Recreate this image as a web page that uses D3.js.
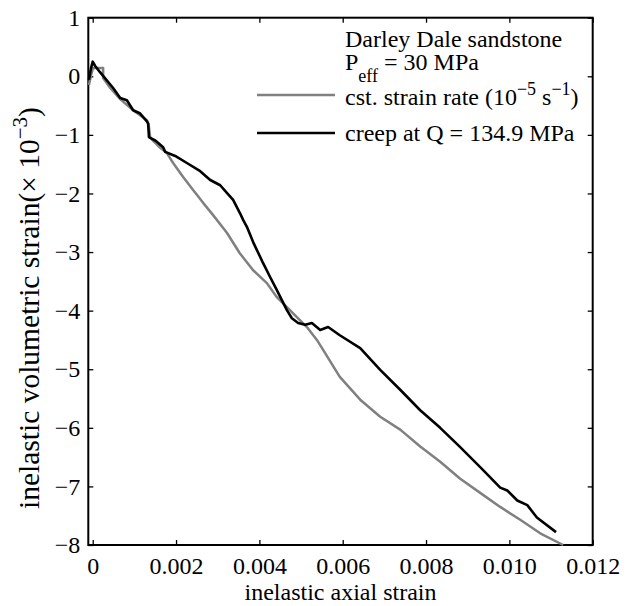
<!DOCTYPE html>
<html>
<head>
<meta charset="utf-8">
<script src="https://cdn.jsdelivr.net/npm/d3@7"></script>
<style>
  body { margin: 0; background: #fff; }
  svg { display: block; }
  text { font-family: "Liberation Serif", "Times New Roman", serif; fill: #000; }
</style>
</head>
<body>
<svg id="chart" width="635" height="606"></svg>
<script>
// ---- data ----
const xTicks = [0, 0.002, 0.004, 0.006, 0.008, 0.010, 0.012];
const xTickLabels = ["0", "0.002", "0.004", "0.006", "0.008", "0.010", "0.012"];
const yTicks = [1, 0, -1, -2, -3, -4, -5, -6, -7, -8];
const yTickLabels = ["1", "0", "\u22121", "\u22122", "\u22123", "\u22124", "\u22125", "\u22126", "\u22127", "\u22128"];

// constant strain rate (grey)
const cstX = [-0.00009, -0.00004, 0.000007, 0.00013, 0.00025, 0.00025, 0.00042, 0.00066, 0.00097, 0.00130, 0.00134, 0.00138, 0.00162, 0.00178, 0.00193, 0.00217, 0.00241, 0.00265, 0.00289, 0.00322, 0.00353, 0.00385, 0.00418, 0.00442, 0.00466, 0.00490, 0.00514, 0.00538, 0.00553, 0.00593, 0.00642, 0.00690, 0.00738, 0.00786, 0.00834, 0.00882, 0.00930, 0.00978, 0.01026, 0.01074, 0.01129];
const cstY = [-0.15, 0.02, 0.14, 0.14, 0.14, -0.03, -0.20, -0.39, -0.58, -0.75, -0.81, -1.05, -1.22, -1.31, -1.48, -1.72, -1.94, -2.16, -2.37, -2.67, -3.02, -3.31, -3.53, -3.77, -3.94, -4.11, -4.28, -4.50, -4.67, -5.13, -5.52, -5.81, -6.03, -6.32, -6.58, -6.87, -7.11, -7.35, -7.57, -7.80, -8.00];

// creep at Q = 134.9 MPa (black)
const creepX = [-0.00009, -0.00004, 0.0, 0.000055, 0.000175, 0.00049, 0.00066, 0.00082, 0.00097, 0.00113, 0.00130, 0.00133, 0.00135, 0.00151, 0.00169, 0.00174, 0.00198, 0.00226, 0.00258, 0.00282, 0.00306, 0.00322, 0.00337, 0.00353, 0.00361, 0.00370, 0.00385, 0.00409, 0.00426, 0.00442, 0.00466, 0.00478, 0.00493, 0.00510, 0.00526, 0.00546, 0.00565, 0.00593, 0.00642, 0.00690, 0.00738, 0.00786, 0.00834, 0.00882, 0.00930, 0.00978, 0.00995, 0.01019, 0.01043, 0.01066, 0.01112];
const creepY = [-0.06, 0.14, 0.25, 0.18, 0.07, -0.20, -0.37, -0.41, -0.58, -0.63, -0.77, -0.81, -1.04, -1.10, -1.21, -1.29, -1.36, -1.48, -1.62, -1.77, -1.86, -1.99, -2.11, -2.33, -2.45, -2.57, -2.83, -3.19, -3.43, -3.65, -3.99, -4.13, -4.21, -4.24, -4.21, -4.33, -4.28, -4.42, -4.64, -5.01, -5.35, -5.70, -6.00, -6.33, -6.67, -7.02, -7.07, -7.24, -7.32, -7.53, -7.78];

const seriesNames = ["cst. strain rate", "creep at Q = 134.9 MPa"];

// ---- layout ----
const svg = d3.select("#chart");
const L = 88.3, R = 592.7, T = 17.7, B = 545;
const FS = 24;

const x = d3.scaleLinear().domain([-0.000106, 0.012]).range([L, R]);
const y = d3.scaleLinear().domain([-8, 1]).range([B, T]);

// axes (ticks inside)
const fmtX = d => xTickLabels[xTicks.indexOf(d)];
const fmtY = d => yTickLabels[yTicks.indexOf(d)];

const gB = svg.append("g").attr("transform", `translate(0,${B})`)
  .call(d3.axisBottom(x).tickValues(xTicks).tickSize(-5).tickPadding(12).tickFormat(fmtX));
const gT = svg.append("g").attr("transform", `translate(0,${T})`)
  .call(d3.axisTop(x).tickValues(xTicks).tickSize(-5).tickFormat(""));
const gL = svg.append("g").attr("transform", `translate(${L},0)`)
  .call(d3.axisLeft(y).tickValues(yTicks).tickSize(-5).tickPadding(8).tickFormat(fmtY));
const gR = svg.append("g").attr("transform", `translate(${R},0)`)
  .call(d3.axisRight(y).tickValues(yTicks).tickSize(-5).tickFormat(""));

[gB, gT, gL, gR].forEach(g => {
  g.select(".domain").remove();
  g.selectAll(".tick line").attr("stroke", "#000").attr("stroke-width", 1.3);
  g.selectAll(".tick text").attr("font-family", "Liberation Serif").attr("font-size", FS).attr("fill", "#000");
});

// frame
svg.append("rect").attr("x", L).attr("y", T).attr("width", R - L).attr("height", B - T)
  .attr("fill", "none").attr("stroke", "#000").attr("stroke-width", 2);

// lines
const line = d3.line().x(d => x(d[0])).y(d => y(d[1]));
const cstData = cstX.map((v, i) => [v, cstY[i]]);
const creepData = creepX.map((v, i) => [v, creepY[i]]);

svg.append("path").datum(cstData).attr("d", line)
  .attr("fill", "none").attr("stroke", "#808080").attr("stroke-width", 2.5).attr("stroke-linejoin", "round");
svg.append("path").datum(creepData).attr("d", line)
  .attr("fill", "none").attr("stroke", "#000").attr("stroke-width", 2.6).attr("stroke-linejoin", "round");

// axis titles
svg.append("text").attr("x", (L + R) / 2).attr("y", 600).attr("text-anchor", "middle")
  .attr("font-size", FS).text("inelastic axial strain");

const yl = svg.append("text").attr("transform", "translate(39,509) rotate(-90)")
  .attr("font-size", 29.5);
yl.append("tspan").text("inelastic volumetric strain(\u00d7 10");
yl.append("tspan").attr("font-size", 21).attr("dy", -12).text("\u22123");
yl.append("tspan").attr("dy", 12).text(")");

// legend
const lx = 345;
svg.append("text").attr("x", lx).attr("y", 47).attr("font-size", FS).text("Darley Dale sandstone");
const pe = svg.append("text").attr("x", lx).attr("y", 70).attr("font-size", FS);
pe.append("tspan").text("P");
pe.append("tspan").attr("font-size", 18).attr("dy", 12).text("eff");
pe.append("tspan").attr("dy", -12).text(" = 30 MPa");

svg.append("line").attr("x1", 257).attr("x2", 335).attr("y1", 95).attr("y2", 95)
  .attr("stroke", "#808080").attr("stroke-width", 2.5);
const t1 = svg.append("text").attr("x", lx).attr("y", 105).attr("font-size", FS);
t1.append("tspan").text(seriesNames[0] + " (10");
t1.append("tspan").attr("font-size", 18).attr("dy", -10).text("\u22125");
t1.append("tspan").attr("dy", 10).text(" s");
t1.append("tspan").attr("font-size", 18).attr("dy", -10).text("\u22121");
t1.append("tspan").attr("dy", 10).text(")");

svg.append("line").attr("x1", 257).attr("x2", 335).attr("y1", 133).attr("y2", 133)
  .attr("stroke", "#000").attr("stroke-width", 2.5);
svg.append("text").attr("x", lx).attr("y", 141).attr("font-size", FS).text(seriesNames[1]);
</script>
</body>
</html>
